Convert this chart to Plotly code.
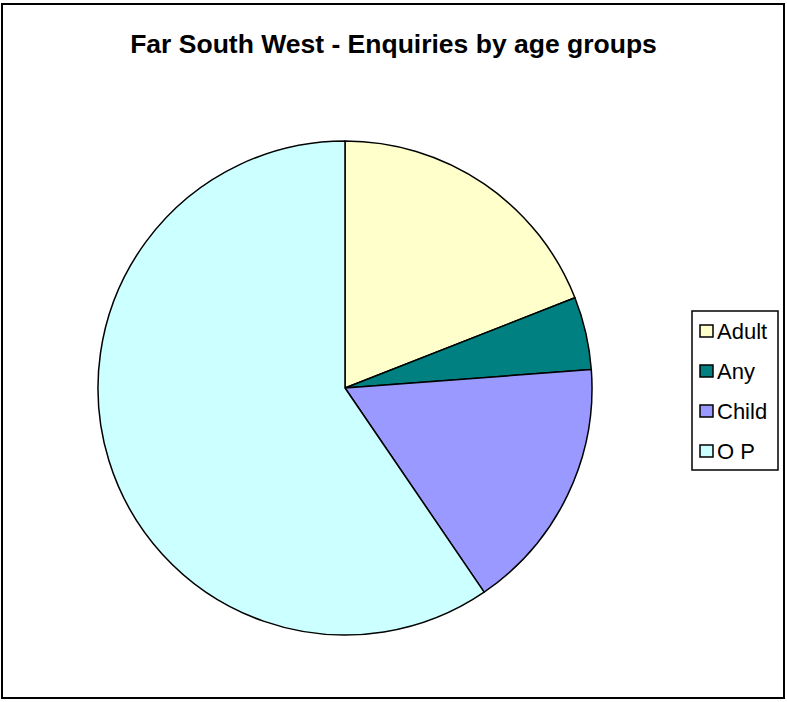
import plotly.graph_objects as go

categories = ["Adult", "Any", "Child", "O P"]
values = [8, 2, 7, 25]
colors = ["#FFFFCC", "#008080", "#9999FF", "#CCFFFF"]

W, H = 787, 702

def px(x):
    return x / W

def py(y):
    return 1 - y / H

cx, cy, r = 345, 388, 247

fig = go.Figure()
fig.add_trace(go.Pie(
    labels=categories,
    values=values,
    marker=dict(colors=colors, line=dict(color="black", width=1.5)),
    sort=False,
    direction="clockwise",
    rotation=0,
    textinfo="none",
    hoverinfo="label+value+percent",
    showlegend=False,
    domain=dict(x=[px(cx - r), px(cx + r)], y=[py(cy + r), py(cy - r)]),
))

shapes = []
annotations = []
# outer border
shapes.append(dict(type="rect", xref="paper", yref="paper",
                   x0=px(2), x1=px(784), y0=py(698), y1=py(4),
                   line=dict(color="black", width=2), fillcolor="rgba(0,0,0,0)"))
# legend box
shapes.append(dict(type="rect", xref="paper", yref="paper",
                   x0=px(692), x1=px(778), y0=py(470), y1=py(311),
                   line=dict(color="black", width=1.5), fillcolor="white"))
legend_y = [331, 371, 411, 451]
for cat, col, ly in zip(categories, colors, legend_y):
    shapes.append(dict(type="rect", xref="paper", yref="paper",
                       x0=px(700), x1=px(713), y0=py(ly + 6), y1=py(ly - 6),
                       line=dict(color="black", width=1.5), fillcolor=col))
    annotations.append(dict(x=px(715), y=py(ly), xref="paper", yref="paper",
                            text=cat, showarrow=False, xanchor="left", yanchor="middle",
                            font=dict(family="Liberation Sans, Arial", size=22, color="black")))

fig.update_layout(
    width=W, height=H,
    margin=dict(l=0, r=0, t=0, b=0),
    paper_bgcolor="white",
    plot_bgcolor="white",
    title=dict(text="<b>Far South West - Enquiries by age groups</b>",
               x=0.5, xanchor="center", y=py(44), yanchor="middle",
               font=dict(family="Liberation Sans, Arial", size=26.5, color="black")),
    shapes=shapes,
    annotations=annotations,
)

fig.write_html("out.html")
